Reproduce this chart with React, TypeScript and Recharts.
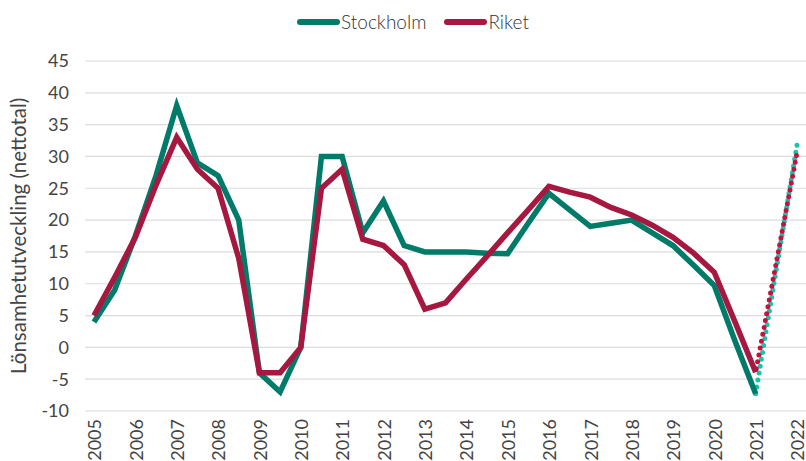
import React from 'react';
import { LineChart, Line, XAxis, YAxis, CartesianGrid } from 'recharts';

const periods = [
  '2005H1','2005H2','2006H1','2006H2','2007H1','2007H2','2008H1','2008H2','2009H1','2009H2',
  '2010H1','2010H2','2011H1','2011H2','2012H1','2012H2','2013H1','2013H2','2014H1','2014H2',
  '2015H1','2015H2','2016H1','2016H2','2017H1','2017H2','2018H1','2018H2','2019H1','2019H2',
  '2020H1','2020H2','2021H1','2021H2','2022H1',
];

const stockholm: (number | null)[] = [
  4, 9, 17.5, 27, 38, 29, 27, 20, -4, -7,
  0, 30, 30, 18, 23, 16, 15, 15, 15, 14.8,
  14.7, 19.5, 24.2, 21.6, 19, 19.5, 20, 18, 16, 12.9,
  9.7, 1, -7.3, null, null,
];

const riket: (number | null)[] = [
  5, 11, 17.3, 25.5, 33, 28, 25, 14, -4, -4,
  0, 25, 28, 17, 16, 13, 6, 7, 10.7, 14.3,
  18, 21.6, 25.3, 24.4, 23.6, 22, 20.8, 19.2, 17.3, 14.8,
  11.8, 4, -3.9, null, null,
];

const stockholmForecast: (number | null)[] = [
  ...Array(32).fill(null), -7.3, null, 31.8,
];
const riketForecast: (number | null)[] = [
  ...Array(32).fill(null), -3.9, null, 30.6,
];

const yearTicks = periods.filter((p) => p.endsWith('H1'));
const yTicks = [-10, -5, 0, 5, 10, 15, 20, 25, 30, 35, 40, 45];

const data = periods.map((p, i) => ({
  period: p,
  stockholm: stockholm[i],
  riket: riket[i],
  stockholmF: stockholmForecast[i],
  riketF: riketForecast[i],
}));

const GREEN = '#007A69';
const RED = '#A6183F';
const GREEN_DOT = '#19C2A8';
const RED_DOT = '#C8103F';
const FONT = 'Lato, sans-serif';
const TXT = '#444444';

const XTick = (props: any) => {
  const { x, payload } = props;
  return (
    <text
      transform={`translate(${x + 1},${419}) rotate(-90)`}
      textAnchor="end"
      dy="0.35em"
      fontSize={18}
      fill={TXT}
      fontFamily={FONT}
    >
      {String(payload.value).slice(0, 4)}
    </text>
  );
};

const Legend = () => (
  <div
    style={{
      position: 'absolute',
      top: 11,
      left: 10,
      width: 806,
      display: 'flex',
      justifyContent: 'center',
      fontFamily: FONT,
      fontSize: 19,
      fontWeight: 300,
      lineHeight: '22px',
      color: '#333',
    }}
  >
    {[
      { name: 'Stockholm', color: GREEN },
      { name: 'Riket', color: RED },
    ].map((it) => (
      <div key={it.name} style={{ display: 'flex', alignItems: 'center', margin: '0 9px' }}>
        <div style={{ width: 43, height: 6, borderRadius: 3, background: it.color, marginRight: 1 }} />
        <span>{it.name}</span>
      </div>
    ))}
  </div>
);

export default function App() {
  return (
    <div style={{ position: 'absolute', left: 0, top: 0, width: 806, height: 461, background: '#fff' }}>
      <Legend />
      <LineChart
        width={806}
        height={461}
        data={data}
        margin={{ top: 61, right: 0, bottom: 0, left: 0 }}
      >
        <CartesianGrid vertical={false} stroke="#DCDCDC" strokeWidth={1.2} />
        <XAxis
          dataKey="period"
          ticks={yearTicks}
          interval={0}
          tick={<XTick />}
          tickLine={false}
          axisLine={false}
          height={50}
          padding={{ left: 9, right: 9 }}
        />
        <YAxis
          domain={[-10, 45]}
          ticks={yTicks}
          interval={0}
          width={85}
          tickLine={false}
          axisLine={false}
          tick={{ fontSize: 18, fill: TXT, fontFamily: FONT, dx: -8 }}
          label={{
            value: 'Lönsamhetutveckling (nettotal)',
            angle: -90,
            position: 'insideLeft',
            dx: 14,
            dy: 138,
            style: { fontSize: 20.5, fill: TXT, fontFamily: FONT },
          }}
        />
        <Line
          dataKey="stockholmF"
          stroke={GREEN_DOT}
          strokeWidth={5}
          strokeDasharray="0 7"
          strokeLinecap="round"
          dot={false}
          connectNulls
          isAnimationActive={false}
        />
        <Line
          dataKey="riketF"
          stroke={RED_DOT}
          strokeWidth={5}
          strokeDasharray="0 7"
          strokeDashoffset={3.5}
          strokeLinecap="round"
          dot={false}
          connectNulls
          isAnimationActive={false}
        />
        <Line
          dataKey="stockholm"
          stroke={GREEN}
          strokeWidth={5.5}
          dot={false}
          isAnimationActive={false}
        />
        <Line
          dataKey="riket"
          stroke={RED}
          strokeWidth={5.5}
          dot={false}
          isAnimationActive={false}
        />
      </LineChart>
    </div>
  );
}
